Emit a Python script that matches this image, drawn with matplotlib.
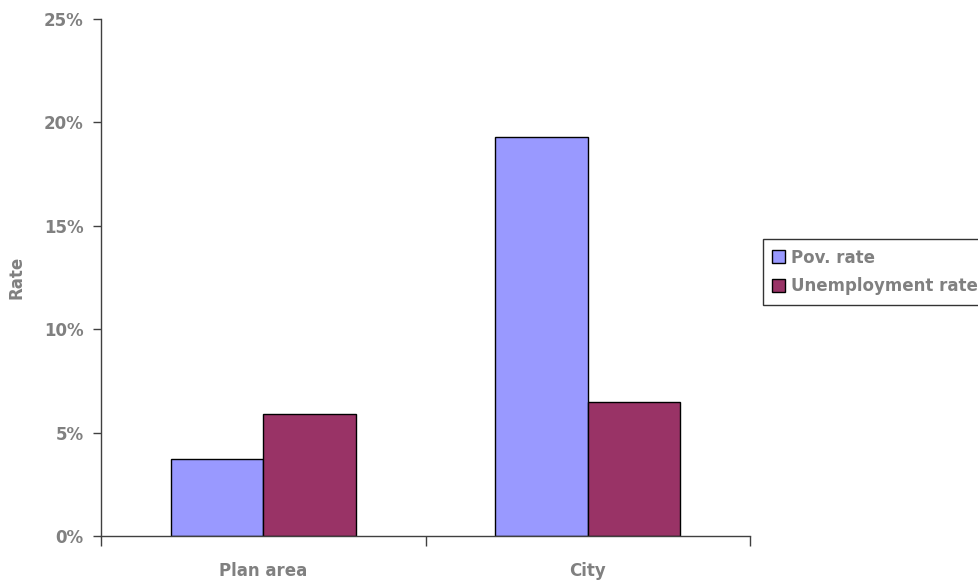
import matplotlib
matplotlib.use('Agg')
import matplotlib.pyplot as plt
import numpy as np

categories = ['Plan area', 'City']
pov_rate = [3.7, 19.3]
unemp_rate = [5.9, 6.5]
yticks = [0, 5, 10, 15, 20, 25]

gray = '#808080'
spine = '#404040'

plt.rcParams['font.family'] = 'DejaVu Sans'
plt.rcParams['font.weight'] = 'bold'
plt.rcParams['axes.labelweight'] = 'bold'

fig = plt.figure(figsize=(9.79, 5.81), dpi=100)
ax = fig.add_axes([0.1032, 0.0775, 0.6629, 0.8898])

x = np.arange(len(categories))
w = 0.285
ax.bar(x - w / 2, pov_rate, w, color='#9999FF', edgecolor='black', linewidth=1, label='Pov. rate')
ax.bar(x + w / 2, unemp_rate, w, color='#993366', edgecolor='black', linewidth=1, label='Unemployment rate')

ax.set_xlim(-0.5, len(categories) - 0.5)
ax.set_ylim(0, 25)
ax.set_yticks(yticks)
ax.set_yticklabels([f'{v}%' for v in yticks])
ax.set_xticks(x)
ax.set_xticklabels(categories)
ax.set_xticks(np.arange(len(categories) + 1) - 0.5, minor=True)
ax.tick_params(axis='x', which='major', length=0, pad=19, labelsize=12, labelcolor=gray)
ax.tick_params(axis='x', which='minor', length=7, color=spine, width=1)
ax.tick_params(axis='y', length=6, color=spine, width=1, labelsize=12, labelcolor=gray, pad=6.5)

for s in ['top', 'right']:
    ax.spines[s].set_visible(False)
for s in ['left', 'bottom']:
    ax.spines[s].set_color(spine)
    ax.spines[s].set_linewidth(1)

ax.set_ylabel('Rate', fontsize=12, color=gray, fontweight='bold', labelpad=13)

leg = ax.legend(loc='upper left', bbox_to_anchor=(0.779, 0.588), bbox_transform=fig.transFigure,
                frameon=True, fancybox=False, edgecolor='black', fontsize=12,
                handlelength=0.8, handleheight=0.8, handletextpad=0.35,
                borderpad=0.55, labelspacing=0.65, borderaxespad=0)
leg.get_frame().set_linewidth(1)
for t in leg.get_texts():
    t.set_color(gray)

fig.savefig('out.png', dpi=100)
